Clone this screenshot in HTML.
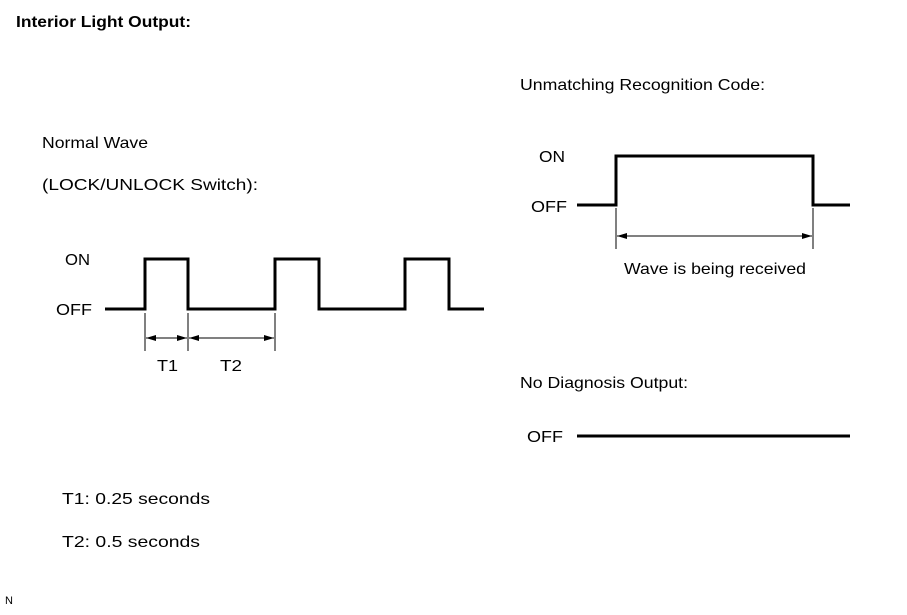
<!DOCTYPE html>
<html><head><style>
body{margin:0;background:#fff;}
svg text{font-family:"Liberation Sans",Arial,sans-serif;fill:#000;}
</style></head><body>
<svg width="907" height="610" viewBox="0 0 907 610" xmlns="http://www.w3.org/2000/svg">
<defs>
<marker id="a" viewBox="0 0 10 6" refX="10" refY="3" markerWidth="10" markerHeight="6" orient="auto-start-reverse" markerUnits="userSpaceOnUse"><path d="M0,0 L10,3 L0,6 Z" fill="#000"/></marker>
</defs>
<g lengthAdjust="spacingAndGlyphs">
<text x="16" y="27" font-size="16" font-weight="bold" textLength="175" lengthAdjust="spacingAndGlyphs">Interior Light Output:</text>
<text x="42" y="148" font-size="16" textLength="106" lengthAdjust="spacingAndGlyphs">Normal Wave</text>
<text x="42" y="190" font-size="16" textLength="216" lengthAdjust="spacingAndGlyphs">(LOCK/UNLOCK Switch):</text>
<text x="65" y="265" font-size="16" textLength="25" lengthAdjust="spacingAndGlyphs">ON</text>
<text x="56" y="315" font-size="16" textLength="36" lengthAdjust="spacingAndGlyphs">OFF</text>
<text x="157" y="371" font-size="16" textLength="21" lengthAdjust="spacingAndGlyphs">T1</text>
<text x="220" y="371" font-size="16" textLength="22" lengthAdjust="spacingAndGlyphs">T2</text>
<text x="62" y="504" font-size="16" textLength="148" lengthAdjust="spacingAndGlyphs">T1: 0.25 seconds</text>
<text x="62" y="547" font-size="16" textLength="138" lengthAdjust="spacingAndGlyphs">T2: 0.5 seconds</text>
<text x="520" y="90" font-size="16" textLength="245" lengthAdjust="spacingAndGlyphs">Unmatching Recognition Code:</text>
<text x="539" y="162" font-size="16" textLength="26" lengthAdjust="spacingAndGlyphs">ON</text>
<text x="531" y="212" font-size="16" textLength="36" lengthAdjust="spacingAndGlyphs">OFF</text>
<text x="624" y="274" font-size="16" textLength="182" lengthAdjust="spacingAndGlyphs">Wave is being received</text>
<text x="520" y="388" font-size="16" textLength="168" lengthAdjust="spacingAndGlyphs">No Diagnosis Output:</text>
<text x="527" y="442" font-size="16" textLength="36" lengthAdjust="spacingAndGlyphs">OFF</text>
</g>
<text x="5" y="604" font-size="11">N</text>
<polyline points="105,309 145,309 145,259 188,259 188,309 275,309 275,259 319,259 319,309 405,309 405,259 449,259 449,309 484,309" fill="none" stroke="#000" stroke-width="3"/>
<g stroke="#000" stroke-width="1">
<line x1="145" y1="313" x2="145" y2="351"/><line x1="188" y1="313" x2="188" y2="351"/><line x1="275" y1="313" x2="275" y2="351"/>
<line x1="146" y1="338" x2="187" y2="338" marker-start="url(#a)" marker-end="url(#a)"/>
<line x1="189" y1="338" x2="274" y2="338" marker-start="url(#a)" marker-end="url(#a)"/>
</g>
<polyline points="577,205 616,205 616,156 813,156 813,205 850,205" fill="none" stroke="#000" stroke-width="3"/>
<g stroke="#000" stroke-width="1">
<line x1="616" y1="208" x2="616" y2="249"/><line x1="813" y1="208" x2="813" y2="249"/>
<line x1="617" y1="236" x2="812" y2="236" marker-start="url(#a)" marker-end="url(#a)"/>
</g>
<line x1="577" y1="436" x2="850" y2="436" stroke="#000" stroke-width="3"/>
</svg>
</body></html>
